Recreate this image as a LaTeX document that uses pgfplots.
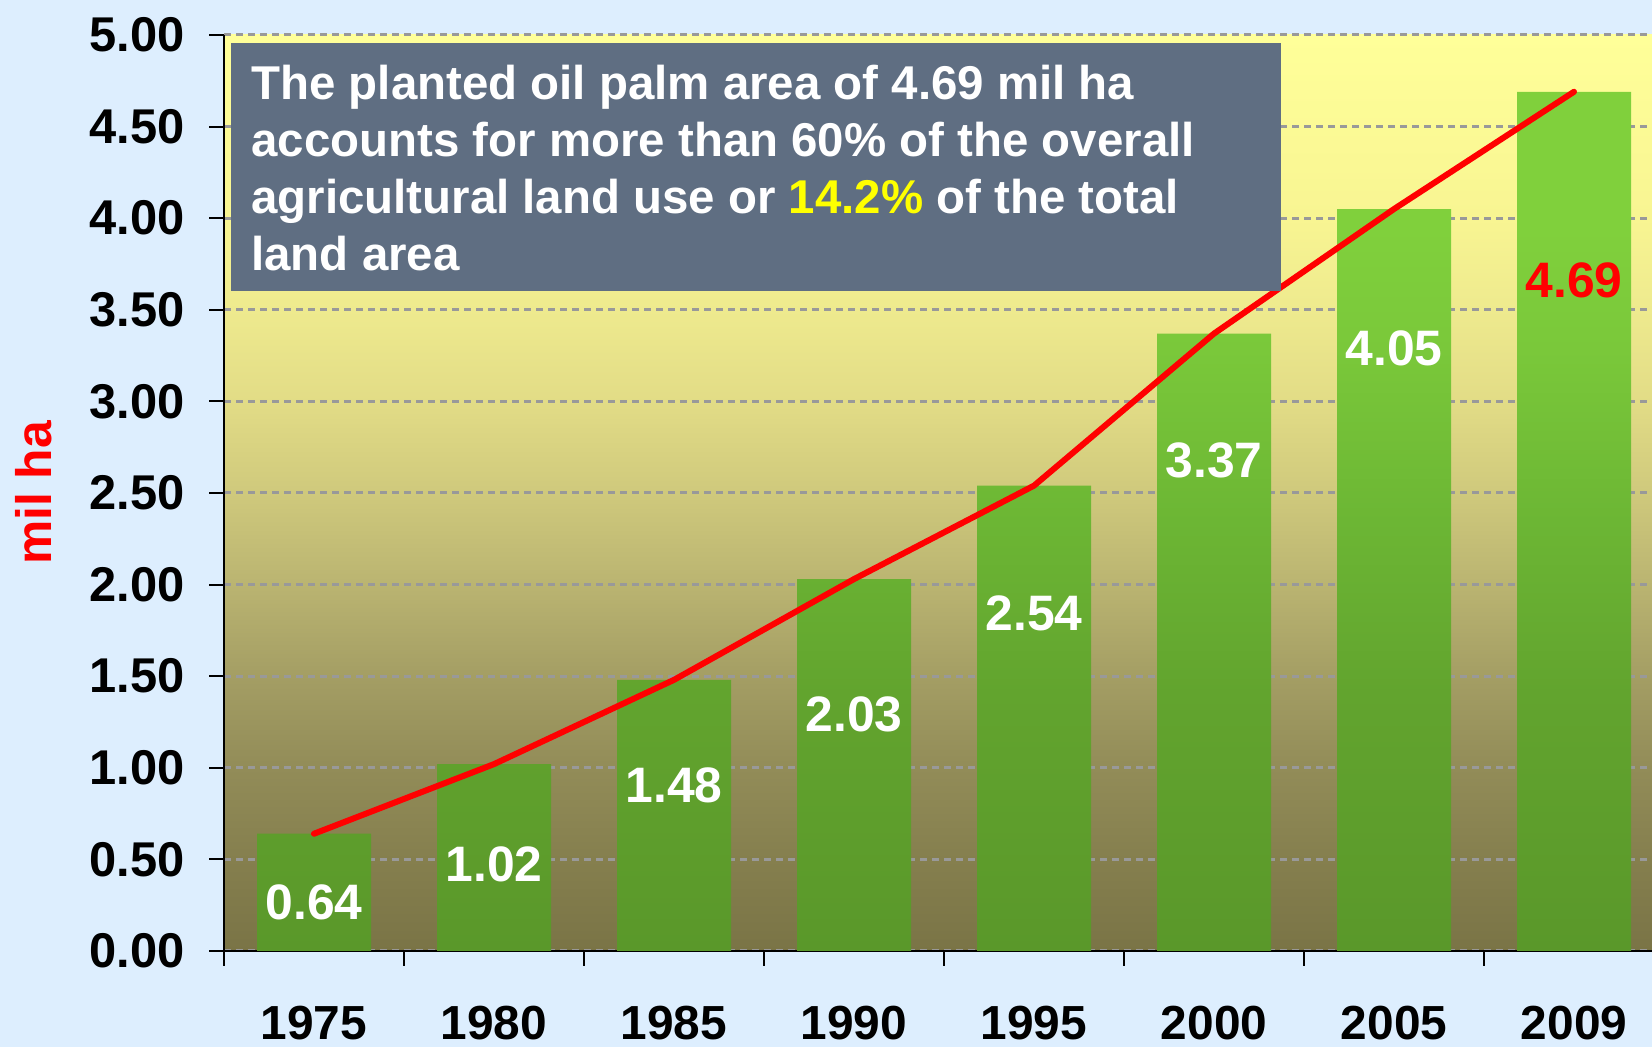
\documentclass[border=0pt]{standalone}
\usepackage{fontspec}
\setmainfont{Liberation Sans}
\usepackage{pgfplots}
\pgfplotsset{compat=1.18}
\definecolor{pagebg}{HTML}{DDEEFE}
\definecolor{boxfill}{HTML}{5F6E82}
\definecolor{gridgray}{HTML}{999999}
\definecolor{hlyellow}{HTML}{FFFF00}
\definecolor{bg0}{HTML}{7A7446}
\definecolor{bg1}{HTML}{857F4E}
\definecolor{bg2}{HTML}{928C58}
\definecolor{bg3}{HTML}{A49E64}
\definecolor{bg4}{HTML}{BAB471}
\definecolor{bg5}{HTML}{CFC97C}
\definecolor{bg6}{HTML}{E2DC86}
\definecolor{bg7}{HTML}{EEEA8E}
\definecolor{bg8}{HTML}{F8F592}
\definecolor{bg9}{HTML}{FFFF99}
\definecolor{br0}{HTML}{5A982A}
\definecolor{br1}{HTML}{62A42E}
\definecolor{br2}{HTML}{6CB634}
\definecolor{br3}{HTML}{7AC83A}
\definecolor{br4}{HTML}{80D03C}
\pgfdeclareverticalshading{plotbg}{100bp}{color(0bp)=(bg0); color(25bp)=(bg0); color(30bp)=(bg1); color(35bp)=(bg2); color(40bp)=(bg3); color(45bp)=(bg4); color(50bp)=(bg5); color(55bp)=(bg6); color(60bp)=(bg7); color(65bp)=(bg8); color(75bp)=(bg9); color(100bp)=(bg9)}
\pgfdeclareverticalshading{barshade}{100bp}{color(0bp)=(br0); color(25bp)=(br0); color(40bp)=(br1); color(50bp)=(br2); color(60bp)=(br3); color(67bp)=(br4); color(75bp)=(br4); color(100bp)=(br4)}

\begin{document}
\begin{tikzpicture}[x=1bp,y=1bp]
\clip (0,0) rectangle (826,523.5);
\fill[pagebg] (0,0) rectangle (826,523.5);
\begin{axis}[
  at={(112bp,48bp)}, anchor=south west,
  scale only axis, width=720bp, height=458bp,
  xmin=-0.5, xmax=7.5, ymin=0, ymax=5,
  axis x line*=bottom, axis y line*=left,
  axis line style={black, line width=1bp},
  axis background/.style={shade, shading=plotbg},
  tick align=outside,
  tick style={black, line width=1bp},
  major tick length=7.5bp,
  ytick={0,0.5,1,1.5,2,2.5,3,3.5,4,4.5,5},
  yticklabels={0.00,0.50,1.00,1.50,2.00,2.50,3.00,3.50,4.00,4.50,5.00},
  yticklabel style={anchor=east, inner sep=0pt, xshift=-12bp, font=\bfseries\fontsize{24.5}{24.5}\selectfont},
  xtick={-0.5,0.5,1.5,2.5,3.5,4.5,5.5,6.5,7.5},
  xticklabels={},
  extra x ticks={0,1,2,3,4,5,6,7},
  extra x tick labels={1975,1980,1985,1990,1995,2000,2005,2009},
  extra x tick style={major tick length=0pt, xticklabel style={anchor=center, yshift=-36bp, inner sep=0pt, font=\bfseries\fontsize{24}{24}\selectfont}},
  ymajorgrids,
  grid style={gridgray, line width=1.5bp, dash pattern=on 3.5bp off 2.5bp},
  ylabel={mil ha},
  every axis y label/.style={at={(axis description cs:-0.132,0.5)}, rotate=90, anchor=center, text=red, font=\bfseries\fontsize{25}{25}\selectfont},
]
\addplot[ybar, bar width=57bp, draw=none, shade, shading=barshade]
  coordinates {(0,0.64) (1,1.02) (2,1.48) (3,2.03) (4,2.54) (5,3.37) (6,4.05) (7,4.69)};
\addplot[red, line width=3bp, line join=round, line cap=round, mark=none]
  coordinates {(0,0.64) (1,1.02) (2,1.48) (3,2.03) (4,2.54) (5,3.37) (6,4.05) (7,4.69)};
\addplot[draw=none, mark=none, nodes near coords, point meta=explicit symbolic,
  every node near coord/.style={anchor=center, inner sep=0pt, text=white, font=\bfseries\fontsize{25}{25}\selectfont}]
  coordinates {(0,0.265)[0.64] (1,0.475)[1.02] (2,0.906)[1.48] (3,1.29)[2.03] (4,1.845)[2.54] (5,2.68)[3.37] (6,3.29)[4.05]};
\addplot[draw=none, mark=none, nodes near coords, point meta=explicit symbolic,
  every node near coord/.style={anchor=center, inner sep=0pt, text=red, font=\bfseries\fontsize{25}{25}\selectfont}]
  coordinates {(7,3.66)[4.69]};
\end{axis}
\fill[boxfill] (115.5,378) rectangle (640.5,502);
\begin{scope}[every node/.style={anchor=base west, inner sep=0pt, text=white, font=\bfseries\fontsize{23.8}{23.8}\selectfont}]
\node at (125.5,473.5) {The planted oil palm area of 4.69 mil ha};
\node at (125.5,445) {accounts for more than 60\% of the overall};
\node at (125.5,416.5) {agricultural land use or \textcolor{hlyellow}{14.2\%} of the total};
\node at (125.5,388) {land area};
\end{scope}
\end{tikzpicture}
\end{document}
